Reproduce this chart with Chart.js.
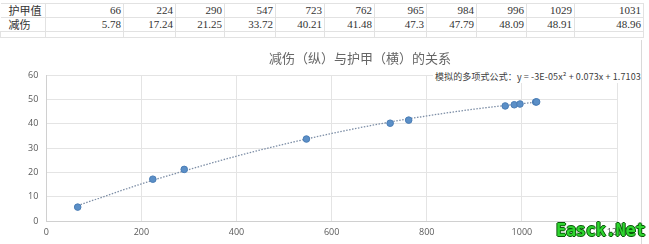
<!DOCTYPE html>
<html>
<head>
<meta charset="utf-8">
<script src="https://cdn.jsdelivr.net/npm/chart.js@4.4.1/dist/chart.umd.min.js"></script>
<style>
body{margin:0;width:649px;height:244px;overflow:hidden;background:#fff;position:relative;font-family:"Noto Sans CJK SC",sans-serif;}
#tbl{position:absolute;left:0;top:3px;border-collapse:collapse;table-layout:fixed;}
#tbl td{border:1px solid #e2e2e2;height:13px;padding:0 2px;font-size:11px;line-height:13px;color:#333;text-align:right;font-family:"Liberation Serif",serif;white-space:nowrap;overflow:hidden;}
#tbl td.lab{text-align:left;font-family:"Noto Sans CJK SC",sans-serif;border-left:none;padding-left:8px;}
#tbl tr.empty td{height:5px;}
#wrap{position:absolute;left:0;top:40px;width:640px;height:204px;}
#title{position:absolute;left:0;width:720px;top:48px;text-align:center;font-size:13px;color:#666;}
#eq{position:absolute;left:433px;top:70px;font-size:9px;color:#404040;background:#fff;padding:0 2px;white-space:nowrap;letter-spacing:0.1px;}
#vline{position:absolute;left:641px;top:40px;width:1px;height:204px;background:#d9d9d9;}
#wm{position:absolute;left:556px;top:220px;font:bold 17px "DejaVu Sans Mono",monospace;color:#2fd52f;letter-spacing:-0.3px;
text-shadow:-1px 0 #0a5a0a,1px 0 #0a5a0a,0 -1px #0a5a0a,0 1px #0a5a0a;}
</style>
</head>
<body>
<table id="tbl"></table>
<div id="wrap"><canvas id="c"></canvas></div>
<div id="title">减伤（纵）与护甲（横）的关系</div>
<div id="eq">模拟的多项式公式：y = -3E-05x² + 0.073x + 1.7103</div>
<div id="vline"></div>
<div id="wm">Easck.Net</div>
<script>
// 护甲值 / 减伤 数据
var armor = [66, 224, 290, 547, 723, 762, 965, 984, 996, 1029, 1031];
var reduction = [5.78, 17.24, 21.25, 33.72, 40.21, 41.48, 47.3, 47.79, 48.09, 48.91, 48.96];
// 趋势线（图上读取的点）
var trendX = [66, 200, 300, 400, 500, 600, 700, 800, 900, 1031];
var trendY = [6.4, 15.3, 21.2, 26.7, 31.6, 36.0, 39.9, 43.2, 46.0, 48.9];
var xTicks = [0, 200, 400, 600, 800, 1000, 1200];
var yTicks = [0, 10, 20, 30, 40, 50, 60];

// table
(function(){
var t = document.getElementById('tbl');
var widths = [45, 78, 52, 49, 51, 49, 50, 52, 50, 50, 48, 69];
var cg = '<colgroup>' + widths.map(function(w){return '<col style="width:'+w+'px">';}).join('') + '</colgroup>';
var r1 = '<tr><td class="lab">护甲值</td>' + armor.map(function(v){return '<td>'+v+'</td>';}).join('') + '</tr>';
var r2 = '<tr><td class="lab">减伤</td>' + reduction.map(function(v){return '<td>'+v+'</td>';}).join('') + '</tr>';
var r3 = '<tr class="empty">' + widths.map(function(){return '<td class="e"></td>';}).join('') + '</tr>';
t.innerHTML = cg + r1 + r2 + r3;
})();

var pts = armor.map(function(x, i){ return {x: x, y: reduction[i]}; });
var trend = trendX.map(function(x, i){ return {x: x, y: trendY[i]}; });
var plain = function(v){ return String(v); };

new Chart(document.getElementById('c'), {
type: 'scatter',
data: { datasets: [
{ label: '减伤', data: pts, backgroundColor: '#5b8fc7', borderColor: '#4a7db5', borderWidth: 1, pointRadius: 3.3, order: 1 },
{ label: '趋势线', type: 'line', data: trend, showLine: true, borderColor: '#7d8ea6', borderWidth: 1.3, borderDash: [1.5, 1.5], pointRadius: 0, tension: 0.4, cubicInterpolationMode: 'monotone', fill: false, order: 2 }
]},
options: {
responsive: true, maintainAspectRatio: false, animation: false,
layout: { padding: { left: 20, right: 23, top: 35, bottom: 0 } },
plugins: { legend: { display: false }, title: { display: false }, tooltip: { enabled: false } },
scales: {
x: { type: 'linear', min: 0, max: 1200, afterBuildTicks: function(a){ a.ticks = xTicks.map(function(v){return {value: v};}); },
grid: { color: '#e4e4e4', tickLength: 0 }, border: { color: '#d0d0d0' },
ticks: { color: '#595959', font: { size: 9, family: 'Open Sans' }, padding: 6, callback: plain } },
y: { min: 0, max: 60, afterBuildTicks: function(a){ a.ticks = yTicks.map(function(v){return {value: v};}); },
grid: { color: '#e4e4e4', tickLength: 0 }, border: { color: '#d0d0d0' },
ticks: { color: '#595959', font: { size: 9, family: 'Open Sans' }, padding: 8, callback: plain } }
}
}
});
</script>
</body>
</html>
